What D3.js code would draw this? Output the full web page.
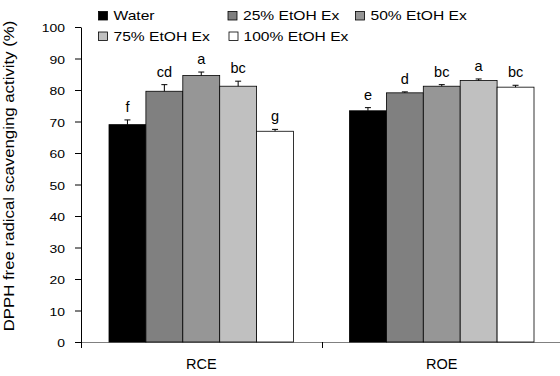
<!DOCTYPE html>
<html>
<head>
<meta charset="utf-8">
<script src="https://cdn.jsdelivr.net/npm/d3@7"></script>
<style>
  body { margin: 0; background: #fff; }
  text { font-family: "Liberation Sans", Arial, sans-serif; fill: #000; }
</style>
</head>
<body>
<div id="chart"></div>
<script>
// categories / series / values
var categories = ["RCE", "ROE"];
var series = ["Water", "25% EtOH Ex", "50% EtOH Ex", "75% EtOH Ex", "100% EtOH Ex"];
var colors = ["#000000", "#808080", "#969696", "#c0c0c0", "#ffffff"];
var rceValues = [69.0, 79.6, 84.6, 81.2, 66.9];
var roeValues = [73.4, 79.1, 81.2, 83.0, 80.9];
var rceErrors = [1.5, 2.1, 1.1, 1.6, 0.6];
var roeErrors = [1.0, 0.3, 0.5, 0.5, 0.6];
var rceLetters = ["f", "cd", "a", "bc", "g"];
var roeLetters = ["e", "d", "bc", "a", "bc"];
var yTicks = [0, 10, 20, 30, 40, 50, 60, 70, 80, 90, 100];

var width = 560, height = 376;
var svg = d3.select("#chart").append("svg")
    .attr("width", width)
    .attr("height", height);

var plotLeft = 81, plotRight = 562, plotTop = 27, plotBottom = 342;
var y = d3.scaleLinear().domain([0, 100]).range([plotBottom, plotTop]);
var x0 = d3.scaleBand().domain(categories).range([plotLeft, plotRight]);
// 每组柱子占 185px，两边各留 28px
var groupPad = 28;
var x1 = d3.scaleBand().domain(series).range([groupPad, x0.bandwidth() - groupPad]);

var rows = [];
categories.forEach(function (c, ci) {
    var vals = ci == 0 ? rceValues : roeValues;
    var errs = ci == 0 ? rceErrors : roeErrors;
    var lets = ci == 0 ? rceLetters : roeLetters;
    series.forEach(function (s, si) {
        rows.push({cat: c, s: s, color: colors[si], v: vals[si], e: errs[si], letter: lets[si]});
    });
});

// x axis (grey line with ticks at category boundaries)
svg.append("line")
    .attr("x1", plotLeft).attr("x2", plotRight)
    .attr("y1", plotBottom + 0.5).attr("y2", plotBottom + 0.5)
    .style("stroke", "#808080").style("stroke-width", 1.2);
var bounds = [plotLeft, x0("ROE"), plotRight];
svg.selectAll(".xtick").data(bounds).enter().append("line")
    .attr("x1", function (d) { return Math.round(d) + 0.5; })
    .attr("x2", function (d) { return Math.round(d) + 0.5; })
    .attr("y1", plotBottom).attr("y2", plotBottom + 6)
    .style("stroke", "#000").style("stroke-width", 1);
svg.selectAll(".xlab").data(categories).enter().append("text")
    .attr("x", function (d) { return x0(d) + x0.bandwidth() / 2; })
    .attr("y", 369)
    .attr("text-anchor", "middle")
    .attr("font-size", "14.5px")
    .text(function (d) { return d; });

// bars
svg.selectAll(".bar").data(rows).enter().append("rect")
    .attr("x", function (d) { return x0(d.cat) + x1(d.s); })
    .attr("y", function (d) { return y(d.v); })
    .attr("width", x1.bandwidth())
    .attr("height", function (d) { return y(0) - y(d.v); })
    .style("fill", function (d) { return d.color; })
    .style("stroke", "#000").style("stroke-width", 0.8);

// error bars (upper only)
var cap = 3;
rows.forEach(function (d) {
    var cx = x0(d.cat) + x1(d.s) + x1.bandwidth() / 2;
    svg.append("line")
        .attr("x1", cx).attr("x2", cx)
        .attr("y1", y(d.v)).attr("y2", y(d.v + d.e))
        .style("stroke", "#000").style("stroke-width", 1);
    svg.append("line")
        .attr("x1", cx - cap).attr("x2", cx + cap)
        .attr("y1", y(d.v + d.e)).attr("y2", y(d.v + d.e))
        .style("stroke", "#000").style("stroke-width", 1);
    svg.append("text")
        .attr("x", cx)
        .attr("y", y(d.v + d.e) - 8)
        .attr("text-anchor", "middle")
        .attr("font-size", "14.5px")
        .text(d.letter);
});

// y axis
var yAxis = svg.append("g")
    .attr("transform", "translate(" + plotLeft + ",0)")
    .call(d3.axisLeft(y).tickValues(yTicks).tickSize(6).tickSizeOuter(0));
yAxis.select(".domain").style("stroke", "#000");
yAxis.selectAll(".tick line").style("stroke", "#000");
yAxis.selectAll(".tick text")
    .attr("x", -16 / 1.2)
    .attr("dy", "0.4em")
    .attr("transform", "scale(1.2,1)")
    .attr("font-size", "11.6px")
    .attr("font-family", "Liberation Sans, Arial, sans-serif")
    .style("fill", "#000");

// y title
svg.append("text")
    .attr("transform", "translate(13.5,176) rotate(-90) scale(1.2,1)")
    .attr("text-anchor", "middle")
    .attr("font-size", "14px")
    .text("DPPH free radical scavenging activity (%)");

// legend
var legendPos = [[98, 20], [227.5, 20], [355, 20], [98, 40.5], [228.5, 40.5]];
series.forEach(function (s, i) {
    var g = svg.append("g")
        .attr("transform", "translate(" + legendPos[i][0] + "," + legendPos[i][1] + ")");
    g.append("rect")
        .attr("x", 0.5).attr("y", -8.5)
        .attr("width", 9).attr("height", 8.5)
        .style("fill", colors[i])
        .style("stroke", "#000").style("stroke-width", 0.8);
    g.append("text")
        .attr("transform", "translate(" + (i == 4 ? 15 : 15.5) + ",0) scale(1.25,1)")
        .attr("font-size", "12.5px")
        .text(s);
});
</script>
</body>
</html>
